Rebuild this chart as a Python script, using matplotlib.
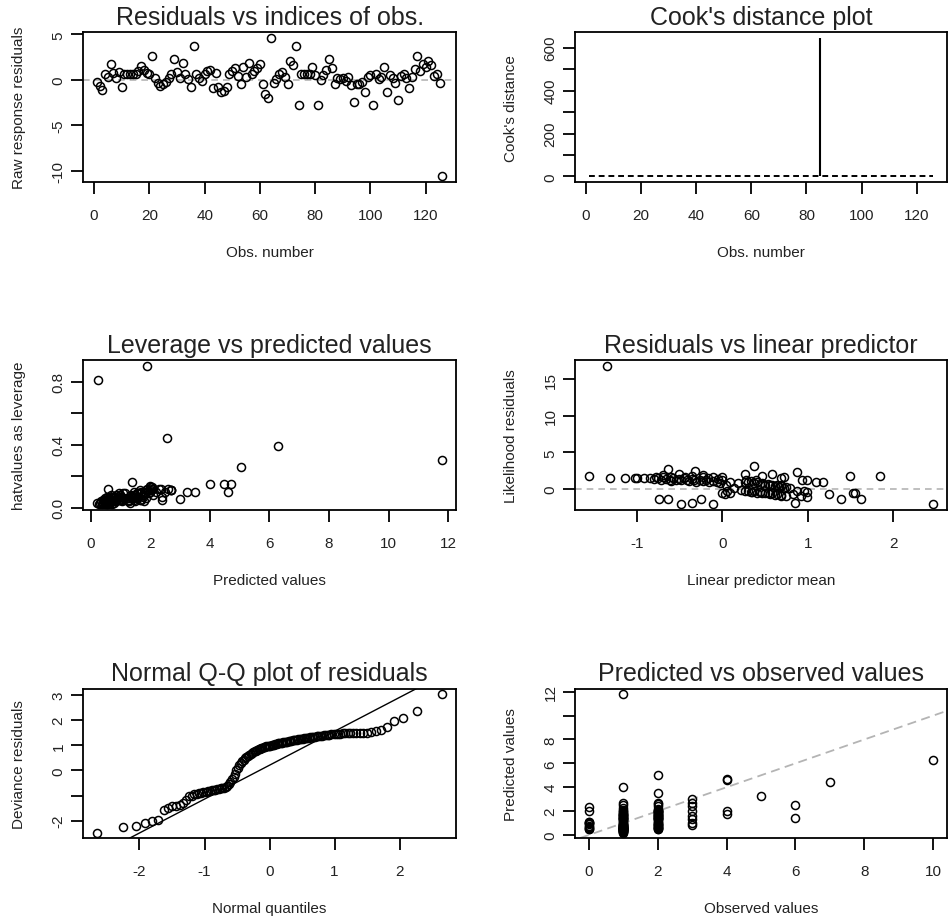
"""GLM diagnostic panels (R-style 3x2 layout) redrawn with matplotlib."""

import math
import statistics

import matplotlib

matplotlib.use("Agg")
import matplotlib.pyplot as plt

plt.rcParams["font.family"] = ["Liberation Sans", "DejaVu Sans"]
plt.rcParams["axes.unicode_minus"] = False

# raw response residuals, in observation order (obs 1..126)
raw_resid = [
    -0.2, -0.7, -1.1, 0.6, 0.3, 1.7, 0.8, 0.2, 0.9, -0.8,
    0.6, 0.6, 0.6, 0.6, 0.6, 1.0, 1.5, 1.1, 0.8, 0.6,
    2.6, 0.2, -0.3, -0.7, -0.5, -0.2, 0.2, 0.6, 2.3, 0.9,
    0.2, 1.9, 0.6, 0.1, -0.8, 3.7, 0.6, 0.2, -0.1, 0.6,
    1.0, 1.1, -0.9, 0.8, -0.8, -1.3, -1.2, -0.8, 0.6, 1.0,
    1.3, 0.4, -0.5, 1.4, 0.3, 1.9, 0.6, 1.0, 1.3, 1.7,
    -0.5, -1.5, -2.0, 4.6, -0.3, 0.1, 0.6, 0.9, 0.3, -0.4,
    2.1, 1.6, 3.7, -2.8, 0.6, 0.6, 0.6, 0.6, 1.4, 0.5,
    -2.8, 0.0, 0.5, 1.1, 2.3, 1.3, -0.4, 0.2, 0.1, 0.2,
    -0.1, 0.3, -0.6, -2.4, -0.4, -0.5, -0.2, -1.3, 0.3, 0.5,
    -2.8, 0.6, 0.1, 0.3, 1.4, -1.3, 0.5, 0.2, -0.3, -2.2,
    0.4, 0.6, 0.2, -0.9, 0.3, 1.2, 2.6, 1.0, 1.8, 1.4,
    2.1, 1.6, 0.4, 0.7, -0.3, -10.6,
]
obs_index = list(range(1, len(raw_resid) + 1))

# Cook's distance: one huge value, the rest sit on the cutoff line
cook_obs = [85]
cook_dist = [645.0]
cook_cutoff = 0.03

# per-observation values (grouped by observed count)
observed = [
    0, 0, 0, 0, 0, 0, 0, 0, 0, 0, 0, 0,
    1, 1, 1, 1, 1, 1, 1,
    1, 1, 1, 1, 1, 1, 1, 1, 1, 1, 1, 1, 1, 1, 1, 1, 1, 1, 1, 1, 1, 1, 1, 1, 1, 1,
    1, 1, 1,
    1, 1, 1, 1, 1, 1, 1, 1, 1, 1, 1, 1, 1, 1, 1, 1, 1, 1, 1,
    1, 1,
    2, 2, 2, 2, 2, 2, 2, 2, 2, 2, 2, 2,
    2, 2,
    2, 2, 2, 2, 2, 2, 2, 2, 2, 2, 2, 2, 2, 2, 2, 2, 2, 2, 2, 2,
    2, 2, 2, 2,
    2, 2,
    3, 3, 3, 3, 3, 3, 3, 3,
    4, 4, 4, 4,
    5,
    6, 6,
    7,
    10,
]
predicted = [
    0.48, 0.53, 0.62, 0.70, 0.78, 0.90, 1.00, 1.03, 1.06, 1.10, 2.00, 2.35,
    0.21, 0.26, 0.27, 0.32, 0.36, 0.37, 0.40,
    0.43, 0.45, 0.47, 0.49, 0.50, 0.52, 0.54, 0.56, 0.58, 0.60, 0.62, 0.64, 0.66,
    0.68, 0.70, 0.72, 0.74, 0.77, 0.80, 0.83, 0.86, 0.90, 0.94, 0.98, 0.46, 0.55,
    1.05, 1.15, 1.25,
    1.30, 1.35, 1.40, 1.45, 1.50, 1.55, 1.60, 1.65, 1.70, 1.75, 1.80, 1.85, 1.90,
    2.00, 2.10, 2.30, 2.50, 2.70, 1.42,
    4.00, 11.80,
    0.50, 0.53, 0.55, 0.60, 0.65, 0.70, 0.73, 0.80, 0.85, 0.90, 0.95, 1.00,
    1.10, 1.20,
    1.30, 1.35, 1.40, 1.45, 1.50, 1.55, 1.60, 1.65, 1.70, 1.75, 1.80, 1.85, 1.90,
    1.95, 2.00, 2.05, 2.10, 1.32, 1.48, 1.98,
    2.20, 2.40, 2.60, 2.70,
    3.50, 5.05,
    3.00, 2.70, 2.40, 2.00, 1.60, 1.30, 1.00, 0.80,
    1.80, 2.05, 4.60, 4.70,
    3.25,
    2.55, 1.45,
    4.47,
    6.30,
]
leverage = [
    0.03, 0.04, 0.03, 0.05, 0.04, 0.06, 0.05, 0.07, 0.04, 0.06, 0.10, 0.12,
    0.03, 0.81, 0.02, 0.03, 0.04, 0.02, 0.05,
    0.03, 0.05, 0.02, 0.06, 0.04, 0.03, 0.07, 0.05, 0.02, 0.04, 0.06, 0.03, 0.05,
    0.08, 0.04, 0.02, 0.06, 0.05, 0.03, 0.07, 0.04, 0.06, 0.05, 0.08, 0.04, 0.02,
    0.05, 0.09, 0.04,
    0.04, 0.07, 0.16, 0.05, 0.08, 0.06, 0.09, 0.05, 0.10, 0.07, 0.04, 0.11, 0.90,
    0.13, 0.08, 0.12, 0.10, 0.11, 0.06,
    0.153, 0.30,
    0.04, 0.05, 0.06, 0.12, 0.03, 0.05, 0.07, 0.05, 0.08, 0.06, 0.09, 0.07,
    0.09, 0.06,
    0.05, 0.08, 0.06, 0.10, 0.04, 0.09, 0.07, 0.11, 0.05, 0.08, 0.10, 0.06, 0.12,
    0.09, 0.11, 0.13, 0.12, 0.03, 0.07, 0.14,
    0.10, 0.045, 0.12, 0.11,
    0.10, 0.26,
    0.057, 0.11, 0.07, 0.10, 0.09, 0.06, 0.08, 0.05,
    0.09, 0.12, 0.096, 0.153,
    0.10,
    0.44, 0.08,
    0.153,
    0.39,
]
lik_resid = [
    -1.4, -1.4, -2.1, -1.85, -1.4, -2.1, -0.5, -0.7, -0.3, -0.6, -0.9, -1.85,
    1.85, 16.8, 1.5, 1.5, 1.5, 1.5, 1.5,
    1.5, 1.4, 1.5, 1.3, 1.6, 1.4, 1.2, 1.5, 1.3, 1.4, 1.2, 1.5, 1.3,
    1.1, 1.4, 1.2, 1.0, 1.3, 1.1, 1.2, 1.0, 1.1, 0.9, 0.8, 1.6, 1.1,
    0.6, 0.2, -0.1,
    -0.3, -0.2, -0.4, -0.3, -0.5, -0.4, -0.6, -0.5, -0.6, -0.7, -0.6, -0.8, -0.7,
    -0.8, -0.9, -0.7, -1.0, -1.1, -0.35,
    -1.4, -2.1,
    1.9, 2.7, 1.7, 2.0, 1.6, 1.8, 2.4, 1.7, 1.5, 1.6, 1.4, 1.2,
    1.0, 0.8,
    1.0, 0.9, 1.1, 0.8, 0.9, 0.7, 0.8, 0.6, 0.7, 0.5, 0.6, 0.4, 0.5,
    0.3, 0.4, 0.2, 0.3, 1.3, 1.2, 0.6,
    0.1, -0.2, -0.3, -0.4,
    -0.7, -1.3,
    0.9, 1.2, 2.3, 1.5, 1.8, 2.1, 1.6, 1.9,
    2.1, 1.6, -0.5, -0.6,
    1.0,
    1.2, 3.2,
    1.8,
    1.8,
]
# linear predictor on the log-link scale
lin_pred = [math.log(p) for p in predicted]

# deviance residuals (sorted) for the Q-Q panel
dev_resid = [
    -2.47, -2.25, -2.20, -2.09, -2.00, -1.96, -1.59, -1.49, -1.42, -1.40,
    -1.37, -1.30, -1.16, -1.03, -1.00, -0.95, -0.92, -0.90, -0.88, -0.86,
    -0.84, -0.82, -0.80, -0.79, -0.77, -0.76, -0.74, -0.73, -0.71, -0.70,
    -0.68, -0.66, -0.62, -0.55, -0.45, -0.36, -0.25, -0.16, 0.00, 0.11,
    0.20, 0.28, 0.36, 0.42, 0.48, 0.53, 0.57, 0.62, 0.66, 0.70,
    0.73, 0.76, 0.79, 0.82, 0.84, 0.86, 0.88, 0.90, 0.92, 0.94,
    0.96, 0.97, 0.98, 0.99, 1.00, 1.02, 1.03, 1.05, 1.06, 1.08,
    1.09, 1.10, 1.11, 1.12, 1.13, 1.14, 1.15, 1.17, 1.18, 1.19,
    1.20, 1.21, 1.22, 1.23, 1.24, 1.25, 1.26, 1.27, 1.28, 1.29,
    1.30, 1.31, 1.32, 1.33, 1.34, 1.35, 1.36, 1.37, 1.38, 1.39,
    1.40, 1.41, 1.42, 1.43, 1.44, 1.45, 1.46, 1.47, 1.47, 1.48,
    1.48, 1.48, 1.49, 1.49, 1.50, 1.50, 1.50, 1.51, 1.52, 1.57,
    1.62, 1.72, 1.97, 2.07, 2.37, 3.04,
]
qq_intercept = 0.21
qq_slope = 1.35

GREY = "#b4b4b4"


def r_range(values):
    # R's default 4% axis expansion
    lo, hi = min(values), max(values)
    pad = 0.04 * (hi - lo)
    return lo - pad, hi + pad


def dots(ax, x, y):
    ax.plot(x, y, "o", mfc="none", mec="black", ms=5.8, mew=1.1, zorder=3)


def dress(ax, title, xlabel, ylabel, xticks, yticks, ylabels=None):
    ax.set_title(title, fontsize=18, pad=6, color="#222")
    ax.set_xlabel(xlabel, fontsize=11, color="#222")
    ax.set_ylabel(ylabel, fontsize=11, color="#222")
    ax.xaxis.set_label_coords(0.5, -0.467)
    ax.xaxis.label.set_va("center")
    ax.yaxis.set_label_coords(-0.172, 0.5)
    ax.yaxis.label.set_va("center")
    ax.set_xticks(xticks)
    ax.set_yticks(yticks)
    if ylabels is not None:
        ax.set_yticklabels(ylabels)
    ax.tick_params(direction="out", length=8.5, width=1.3, labelsize=11,
                   labelcolor="#222")
    ax.tick_params(axis="x", pad=10)
    ax.tick_params(axis="y", pad=4, labelrotation=90)
    for lab in ax.get_yticklabels():
        lab.set_va("center")
    for sp in ax.spines.values():
        sp.set_linewidth(1.3)


fig = plt.figure(figsize=(9.48, 9.2), dpi=100)
left_x, right_x = 0.0876, 0.6065
w_left, w_right, h = 0.3935, 0.3925, 0.1625
rows_y = [0.8011, 0.4446, 0.0880]

# 1. residuals vs index
ax = fig.add_axes([left_x, rows_y[0], w_left, h])
dots(ax, obs_index, raw_resid)
ax.axhline(0, color=GREY, lw=1.2, ls=(0, (4, 3)), zorder=1)
ax.set_xlim(r_range(obs_index))
ax.set_ylim(r_range(raw_resid))
dress(ax, "Residuals vs indices of obs.", "Obs. number", "Raw response residuals",
      range(0, 121, 20), [-10, -5, 0, 5])

# 2. Cook's distance
ax = fig.add_axes([right_x, rows_y[0], w_right, h])
ax.vlines(cook_obs, 0, cook_dist, color="black", lw=1.5)
ax.hlines(cook_cutoff, obs_index[0], obs_index[-1], color="black", lw=1.4,
          linestyles=[(0, (3, 2))])
ax.set_xlim(r_range(obs_index))
ax.set_ylim(r_range([0.0] + cook_dist))
cook_ticks = list(range(0, 601, 100))
dress(ax, "Cook's distance plot", "Obs. number", "Cook's distance",
      range(0, 121, 20), cook_ticks,
      [str(t) if t % 200 == 0 else "" for t in cook_ticks])

# 3. leverage vs predicted
ax = fig.add_axes([left_x, rows_y[1], w_left, h])
dots(ax, predicted, leverage)
ax.set_xlim(r_range(predicted))
ax.set_ylim(r_range(leverage))
dress(ax, "Leverage vs predicted values", "Predicted values", "hatvalues as leverage",
      range(0, 13, 2), [0.0, 0.2, 0.4, 0.6, 0.8], ["0.0", "", "0.4", "", "0.8"])

# 4. residuals vs linear predictor
ax = fig.add_axes([right_x, rows_y[1], w_right, h])
dots(ax, lin_pred, lik_resid)
ax.axhline(0, color=GREY, lw=1.2, ls=(0, (4, 3)), zorder=1)
ax.set_xlim(r_range(lin_pred))
ax.set_ylim(r_range(lik_resid))
dress(ax, "Residuals vs linear predictor", "Linear predictor mean",
      "Likelihood residuals", [-1, 0, 1, 2], [0, 5, 10, 15])

# 5. normal Q-Q
ax = fig.add_axes([left_x, rows_y[2], w_left, h])
n = len(dev_resid)
theo = [statistics.NormalDist().inv_cdf((i - 0.5) / n) for i in range(1, n + 1)]
dots(ax, theo, sorted(dev_resid))
ax.axline((0, qq_intercept), slope=qq_slope, color="black", lw=1.0)
ax.set_xlim(r_range(theo))
ax.set_ylim(r_range(dev_resid))
dress(ax, "Normal Q-Q plot of residuals", "Normal quantiles", "Deviance residuals",
      [-2, -1, 0, 1, 2], [-2, -1, 0, 1, 2, 3], ["-2", "", "0", "1", "2", "3"])

# 6. predicted vs observed
ax = fig.add_axes([right_x, rows_y[2], w_right, h])
dots(ax, observed, predicted)
ax.axline((0, 0), slope=1, color=GREY, lw=1.3, ls=(0, (5, 3)), zorder=1)
ax.set_xlim(r_range(observed))
ax.set_ylim(r_range(predicted))
pv_ticks = list(range(0, 13, 2))
dress(ax, "Predicted vs observed values", "Observed values", "Predicted values",
      range(0, 11, 2), pv_ticks, [str(t) if t != 10 else "" for t in pv_ticks])

fig.savefig("out.png", dpi=100, facecolor="white")
